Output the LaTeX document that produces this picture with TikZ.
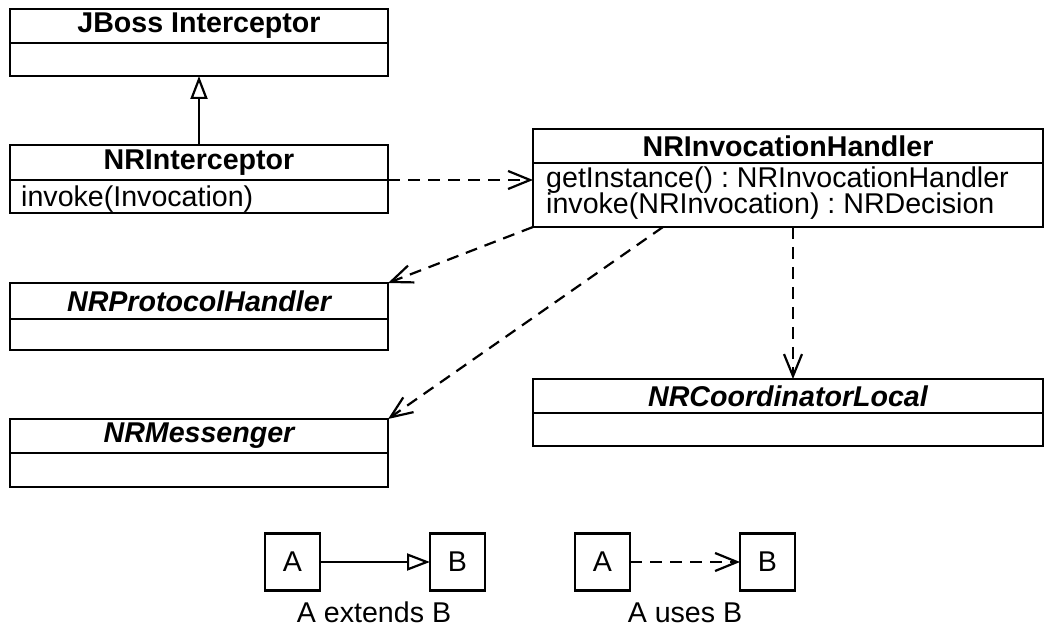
\documentclass[tikz,border=0pt]{standalone}
\usepackage{fontspec}
\setmainfont{Liberation Sans}
\usetikzlibrary{arrows.meta,calc}
\frenchspacing

\newcommand{\umlfont}{\fontsize{28.6}{32}\selectfont}

\tikzset{
  part/.style={draw, line width=2.4pt, inner sep=0pt, outer sep=0pt,
               anchor=north west, minimum width=#1},
  title/.style={font=\umlfont\bfseries},
  abstract/.style={font=\umlfont\bfseries\itshape},
  method/.style={font=\umlfont, anchor=base west, inner sep=0pt},
  legbox/.style={draw, line width=2.2pt, minimum width=55pt, minimum height=57pt,
                 inner sep=0pt, outer sep=0pt, font=\umlfont},
  legtext/.style={font=\umlfont, inner sep=0pt, anchor=base},
  extends/.style={line width=2.2pt, -{Triangle[open, length=23pt, width=17pt, line width=2.2pt]}},
  uses/.style={line width=2.2pt, dash pattern=on 12pt off 8pt,
               -{Straight Barb[length=22pt, width=18pt, line width=2.2pt]}},
}

\begin{document}
\begin{tikzpicture}[x=1pt,y=-1pt]
\useasboundingbox (0,0) rectangle (1045,628);

% JBoss Interceptor
\node[part=378, minimum height=34pt, title] (jbossT) at (10,9) {JBoss Interceptor};
\node[part=378, minimum height=33pt] (jbossB) at (jbossT.south west) {};

% NRInterceptor
\node[part=378, minimum height=35pt, title] (nriT) at (10,145) {NRInterceptor};
\node[part=378, minimum height=33pt] (nriB) at (nriT.south west) {};
\node[method] (nriM) at (21,207) {invoke(Invocation)};

% NRInvocationHandler
\node[part=510, minimum height=34pt, title] (nihT) at (533,129) {NRInvocationHandler};
\node[part=510, minimum height=64pt] (nihB) at (nihT.south west) {};
\node[method] (nihM1) at (546,188) {getInstance() : NRInvocationHandler};
\node[method] (nihM2) at (546,214) {invoke(NRInvocation) : NRDecision};

% NRProtocolHandler
\node[part=378, minimum height=36pt, abstract] (nrpT) at (10,283) {NRProtocolHandler};
\node[part=378, minimum height=31pt] (nrpB) at (nrpT.south west) {};

% NRMessenger
\node[part=378, minimum height=34pt, abstract] (nrmT) at (10,419) {NRMessenger};
\node[part=378, minimum height=34pt] (nrmB) at (nrmT.south west) {};

% NRCoordinatorLocal
\node[part=510, minimum height=34pt, abstract] (nrcT) at (533,379) {NRCoordinatorLocal};
\node[part=510, minimum height=33pt] (nrcB) at (nrcT.south west) {};

% relations
\draw[extends] (nriT.north) -- (jbossB.south);
\draw[uses] (nriB.north east) -- (nriB.north east -| nihB.west);
\draw[uses] (nihB.south west) -- (nrpT.north east);
\coordinate (s2) at ($(nihB.south west)+(130,0)$);
\draw[uses] (s2) -- (nrmT.north east);
\coordinate (s3) at ($(nihB.south west)+(260,0)$);
\draw[uses] (s3) -- (s3 |- nrcT.north);

% legend
\node[legbox] (la) at (292.5,562) {A};
\node[legbox] (lb) at (457.5,562) {B};
\node[legbox] (lc) at (602.5,562) {A};
\node[legbox] (ld) at (767.5,562) {B};
\draw[extends] (la.east) -- (lb.west);
\draw[uses] (lc.east) -- (ld.west);
\node[legtext] (lt1) at (374,622) {A extends B};
\node[legtext] (lt2) at (685,622) {A uses B};
\end{tikzpicture}
\end{document}
